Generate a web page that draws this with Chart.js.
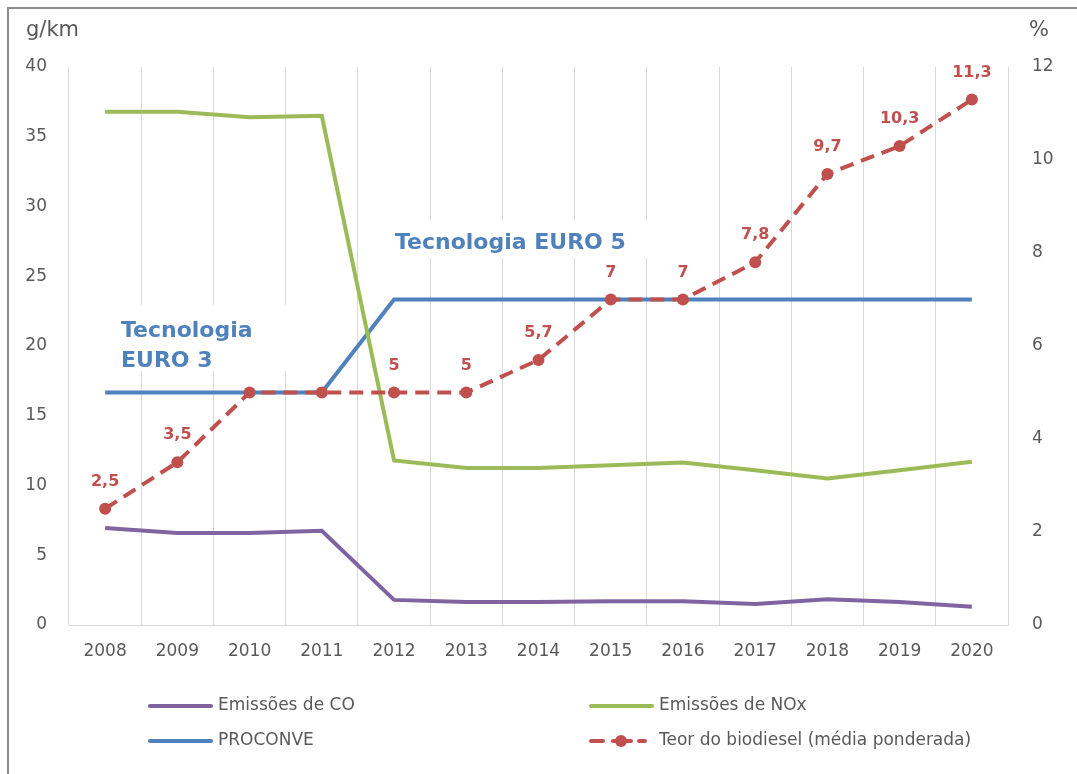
<!DOCTYPE html>
<html>
<head>
<meta charset="utf-8">
<script src="https://cdn.jsdelivr.net/npm/chart.js@4.4.0/dist/chart.umd.min.js"></script>
<style>
  html, body { margin: 0; padding: 0; background: #fff; }
  #wrap { width: 1077px; height: 774px; }
</style>
</head>
<body>
<div id="wrap"><canvas id="chart" width="1077" height="774"></canvas></div>
<script>
var years = ['2008', '2009', '2010', '2011', '2012', '2013', '2014', '2015', '2016', '2017', '2018', '2019', '2020']
var emissoesCO = [6.95, 6.6, 6.6, 6.75, 1.8, 1.65, 1.65, 1.7, 1.7, 1.5, 1.85, 1.65, 1.3]
var emissoesNOx = [36.8, 36.8, 36.4, 36.5, 11.8, 11.25, 11.25, 11.45, 11.65, 11.1, 10.5, 11.1, 11.7]
var proconve = [5, 5, 5, 5, 7, 7, 7, 7, 7, 7, 7, 7, 7]
var biodiesel = [2.5, 3.5, 5, 5, 5, 5, 5.7, 7, 7, 7.8, 9.7, 10.3, 11.3]
var leftTicks = [0, 5, 10, 15, 20, 25, 30, 35, 40]
var rightTicks = [0, 2, 4, 6, 8, 10, 12]

var FONT = "'DejaVu Sans', Verdana, sans-serif"
var GREY = '#595959'
var PURPLE = '#8064A2'
var GREEN = '#9BBB59'
var BLUE = '#4F81BD'
var RED = '#C0504D'

function fmt(v){
    return String(v).replace('.', ',')
}

// frame, labels, text boxes, legend
var extras = {
    id: 'extras',
    beforeDraw: function(chart){
        var ctx = chart.ctx
        ctx.save()
        ctx.fillStyle = '#fff'
        ctx.fillRect(0, 0, chart.width, chart.height)
        ctx.strokeStyle = '#8c8c8c'
        ctx.lineWidth = 2
        ctx.strokeRect(8, 8, 2000, 2000)
        ctx.restore()
    },
    beforeDatasetsDraw: function(chart){
        var ctx = chart.ctx
        ctx.save()

        // data labels of biodiesel (under the text boxes)
        var meta = chart.getDatasetMeta(3)
        ctx.font = 'bold 16px ' + FONT
        ctx.fillStyle = RED
        ctx.textAlign = 'center'
        ctx.textBaseline = 'middle'
        meta.data.forEach(function(pt, i){
            ctx.fillText(fmt(biodiesel[i]), pt.x, pt.y - 27)
        })

        // text boxes
        ctx.fillStyle = '#fff'
        ctx.fillRect(100, 305, 245, 66)
        ctx.fillRect(376, 220, 326, 38)
        ctx.font = 'bold 22px ' + FONT
        ctx.fillStyle = BLUE
        ctx.textAlign = 'left'
        ctx.fillText('Tecnologia', 121, 331)
        ctx.fillText('EURO 3', 121, 361)
        ctx.fillText('Tecnologia EURO 5', 395, 243)
        ctx.restore()
    },
    afterDraw: function(chart){
        var ctx = chart.ctx
        ctx.save()
        ctx.textBaseline = 'middle'
        ctx.textAlign = 'left'

        // axis units
        ctx.font = '21px ' + FONT
        ctx.fillStyle = GREY
        ctx.fillText('g/km', 26, 31)
        ctx.fillText('%', 1029, 31)

        // legend
        var items = [
            { label: 'Emissões de CO', color: PURPLE, x: 150, y: 706 },
            { label: 'PROCONVE', color: BLUE, x: 150, y: 741 },
            { label: 'Emissões de NOx', color: GREEN, x: 591, y: 706 },
            { label: 'Teor do biodiesel (média ponderada)', color: RED, x: 591, y: 741, dash: true }
        ]
        ctx.lineCap = 'round'
        ctx.lineWidth = 4
        items.forEach(function(it){
            ctx.strokeStyle = it.color
            ctx.beginPath()
            if(it.dash){
                ctx.moveTo(it.x, it.y); ctx.lineTo(it.x + 12, it.y)
                ctx.moveTo(it.x + 22, it.y); ctx.lineTo(it.x + 40, it.y)
                ctx.moveTo(it.x + 48, it.y); ctx.lineTo(it.x + 54, it.y)
            } else {
                ctx.moveTo(it.x, it.y); ctx.lineTo(it.x + 61, it.y)
            }
            ctx.stroke()
            if(it.dash){
                ctx.fillStyle = it.color
                ctx.beginPath()
                ctx.arc(it.x + 30, it.y, 6, 0, Math.PI * 2)
                ctx.fill()
            }
            ctx.font = '17px ' + FONT
            ctx.fillStyle = GREY
            ctx.fillText(it.label, it.x + 68, it.y)
        })
        ctx.restore()
    }
}

var ctx = document.getElementById('chart').getContext('2d')
var myChart = new Chart(ctx, {
    type: 'line',
    data: {
        labels: years,
        datasets: [{
            label: 'Emissões de CO',
            data: emissoesCO,
            yAxisID: 'y',
            borderColor: PURPLE,
            borderWidth: 4,
            pointRadius: 0,
            tension: 0,
            order: 4
        }, {
            label: 'Emissões de NOx',
            data: emissoesNOx,
            yAxisID: 'y',
            borderColor: GREEN,
            borderWidth: 4,
            pointRadius: 0,
            tension: 0,
            order: 2
        }, {
            label: 'PROCONVE',
            data: proconve,
            yAxisID: 'y1',
            borderColor: BLUE,
            borderWidth: 4,
            pointRadius: 0,
            tension: 0,
            order: 3
        }, {
            label: 'Teor do biodiesel (média ponderada)',
            data: biodiesel,
            yAxisID: 'y1',
            borderColor: RED,
            backgroundColor: RED,
            borderWidth: 4,
            borderDash: [14, 8],
            pointRadius: 6,
            pointBorderWidth: 0,
            tension: 0,
            order: 1
        }]
    },
    options: {
        responsive: false,
        animation: false,
        layout: { padding: { top: 67, bottom: 110, left: 0, right: 0 } },
        plugins: {
            legend: { display: false },
            tooltip: { enabled: false }
        },
        scales: {
            x: {
                offset: true,
                grid: { offset: true, color: '#d9d9d9', lineWidth: 1, drawTicks: false },
                border: { color: '#d9d9d9' },
                ticks: { color: GREY, font: { size: 17, family: FONT }, padding: 16, maxRotation: 0 },
                afterFit: function(s){ s.height = 39 }
            },
            y: {
                position: 'left',
                min: 0, max: 40,
                afterBuildTicks: function(s){ s.ticks = leftTicks.map(function(v){ return { value: v } }) },
                grid: { display: false },
                border: { display: false },
                ticks: { color: GREY, font: { size: 17, family: FONT }, padding: 14 },
                afterFit: function(s){ s.width = 69 }
            },
            y1: {
                position: 'right',
                min: 0, max: 12,
                afterBuildTicks: function(s){ s.ticks = rightTicks.map(function(v){ return { value: v } }) },
                grid: { display: false },
                border: { display: false },
                ticks: { color: GREY, font: { size: 17, family: FONT }, padding: 16 },
                afterFit: function(s){ s.width = 69 }
            }
        }
    },
    plugins: [extras]
})
</script>
</body>
</html>
